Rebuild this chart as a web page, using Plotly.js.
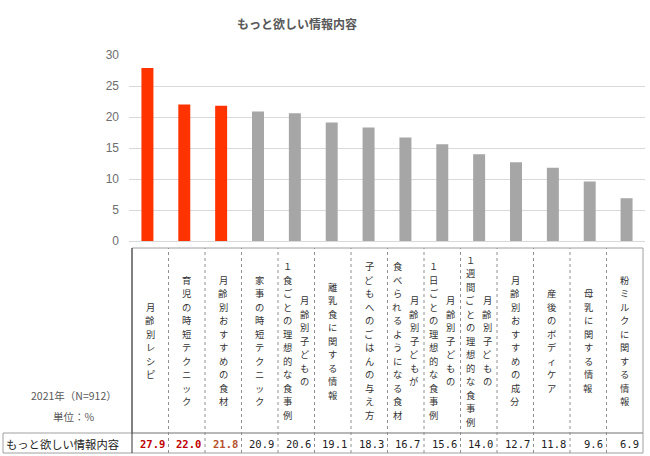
<!DOCTYPE html>
<html>
<head>
<meta charset="utf-8">
<script src="https://cdn.plot.ly/plotly-3.0.1.min.js"></script>
<style>html,body{margin:0;padding:0;background:#fff;}#chart{width:650px;height:456px;}</style>
</head>
<body>
<div id="chart"></div>
<script>
// ---- data ----
const chartTitle = "もっと欲しい情報内容";
const seriesName = "もっと欲しい情報内容";
const categories = [
  "月齢別レシピ",
  "育児の時短テクニック",
  "月齢別おすすめの食材",
  "家事の時短テクニック",
  "月齢別子どもの１食ごとの理想的な食事例",
  "離乳食に関する情報",
  "子どもへのごはんの与え方",
  "月齢別子どもが食べられるようになる食材",
  "月齢別子どもの１日ごとの理想的な食事例",
  "月齢別子どもの１週間ごとの理想的な食事例",
  "月齢別おすすめの成分",
  "産後のボディケア",
  "母乳に関する情報",
  "粉ミルクに関する情報"
];
// label lines as wrapped in the table (first line = rightmost vertical column)
const labelLines = [
  ["月齢別レシピ"],
  ["育児の時短テクニック"],
  ["月齢別おすすめの食材"],
  ["家事の時短テクニック"],
  ["月齢別子どもの", "１食ごとの理想的な食事例"],
  ["離乳食に関する情報"],
  ["子どもへのごはんの与え方"],
  ["月齢別子どもが", "食べられるようになる食材"],
  ["月齢別子どもの", "１日ごとの理想的な食事例"],
  ["月齢別子どもの", "１週間ごとの理想的な食事例"],
  ["月齢別おすすめの成分"],
  ["産後のボディケア"],
  ["母乳に関する情報"],
  ["粉ミルクに関する情報"]
];
const values = [27.9, 22.0, 21.8, 20.9, 20.6, 19.1, 18.3, 16.7, 15.6, 14.0, 12.7, 11.8, 9.6, 6.9];
const highlighted = [true, true, true, false, false, false, false, false, false, false, false, false, false, false];
const noteLines = ["2021年（N=912）", "単位：%"];
const yTicks = [0, 5, 10, 15, 20, 25, 30];

// ---- styles / geometry ----
const W = 650, H = 456;
const M = {l: 129, r: 5, t: 55, b: 215};
const plotW = W - M.l - M.r, plotH = H - M.t - M.b;
const catW = plotW / categories.length;
const py = p => (H - M.b - p) / plotH;            // pixel y -> paper y
const pxCat = p => -0.5 + (p - M.l) / catW;        // pixel x -> category units
const pxPaper = p => (p - M.l) / plotW;            // pixel x -> paper x
const L = pxCat(132), R = pxCat(643);
const colW = (R - L) / categories.length;
const cellCenter = i => L + (i + 0.5) * colW;
const RED = "#FF3300", GRAY = "#A6A6A6";
const valueColors = ["#C00000", "#C00000", "#B5502A"];
const textGray = "#595959";
const cjk = "Noto Sans CJK JP";
const charStep = 13.5, labelMidY = 340.5;

const annotations = [];
const shapes = [];

// table label row: vertical text, one glyph per annotation
const rowTop = py(248), rowMid = py(433), rowBot = py(453);
labelLines.forEach((lines, i) => {
  const n = lines.length;
  lines.forEach((line, k) => {
    const off = n === 1 ? 0 : (k === 0 ? 0.23 : -0.23);
    const chars = Array.from(line);
    chars.forEach((c, j) => {
      const yPix = labelMidY + (j - (chars.length - 1) / 2) * charStep;
      annotations.push({
        x: cellCenter(i) + off, xref: "x", y: py(yPix), yref: "paper",
        text: c, showarrow: false, xanchor: "center", yanchor: "middle", borderpad: 0,
        font: {family: cjk, size: 9.3, color: "#333333"}
      });
    });
  });
});
// values row
values.forEach((v, i) => {
  const hl = highlighted[i];
  annotations.push({
    x: L + (i + 1) * colW - 3 / catW, xref: "x", y: py(443.5), yref: "paper",
    text: hl ? "<b>" + v.toFixed(1) + "</b>" : v.toFixed(1), showarrow: false,
    xanchor: "right", yanchor: "middle", borderpad: 0,
    font: {family: "DejaVu Sans Mono", size: 10.5, color: hl ? valueColors[i] : "#222222"}
  });
});
// row header
annotations.push({
  x: pxPaper(5), xref: "paper", y: py(443.5), yref: "paper", text: seriesName,
  showarrow: false, xanchor: "left", yanchor: "middle", borderpad: 0,
  font: {family: cjk, size: 11.3, color: "#222222"}
});
// notes
noteLines.forEach((t, k) => {
  annotations.push({
    x: pxPaper(74), xref: "paper", y: py(395 + k * 21), yref: "paper", text: t,
    showarrow: false, xanchor: "center", yanchor: "middle", borderpad: 0,
    font: {family: cjk, size: 10.5, color: textGray}
  });
});

// table lines
const border = {color: "#A0A0A0", width: 1};
shapes.push({type: "rect", xref: "x", yref: "paper", x0: L, x1: R, y0: rowMid, y1: rowTop, line: border});
shapes.push({type: "rect", xref: "paper", yref: "paper", x0: pxPaper(3), x1: pxPaper(643), y0: rowBot, y1: rowMid, line: border});
shapes.push({type: "line", xref: "x", yref: "paper", x0: L, x1: L, y0: rowBot, y1: rowTop, line: {color: "#333333", width: 1}});
for (let k = 1; k < categories.length; k++) {
  const xx = L + k * colW;
  shapes.push({type: "line", xref: "x", yref: "paper", x0: xx, x1: xx, y0: rowBot, y1: rowTop,
    line: {color: "#909090", width: 1, dash: "dot"}});
}

const trace = {
  type: "bar", x: categories, y: values, name: seriesName,
  marker: {color: highlighted.map(h => h ? RED : GRAY)},
  hoverinfo: "x+y"
};

const layout = {
  width: W, height: H, margin: M,
  paper_bgcolor: "#ffffff", plot_bgcolor: "#ffffff",
  showlegend: false, bargap: 0.675,
  title: {text: "<b>" + chartTitle + "</b>", x: 297 / W, xref: "container", xanchor: "center",
    y: 1 - 25 / H, yref: "container", yanchor: "middle",
    font: {family: cjk, size: 12, color: textGray}},
  xaxis: {type: "category", showticklabels: false, showgrid: false, zeroline: false,
    showline: false, ticks: "", range: [-0.5, categories.length - 0.5], fixedrange: true},
  yaxis: {range: [0, 30], tickvals: yTicks, showgrid: true, gridcolor: "#D9D9D9", gridwidth: 1,
    zeroline: true, zerolinecolor: "#D9D9D9", zerolinewidth: 1, showline: false, ticks: "",
    ticklabelstandoff: 9, tickfont: {family: "Liberation Sans", size: 12, color: "#6E6E6E"}, fixedrange: true},
  annotations: annotations, shapes: shapes
};

Plotly.newPlot("chart", [trace], layout, {displayModeBar: false, staticPlot: true});
</script>
</body>
</html>
